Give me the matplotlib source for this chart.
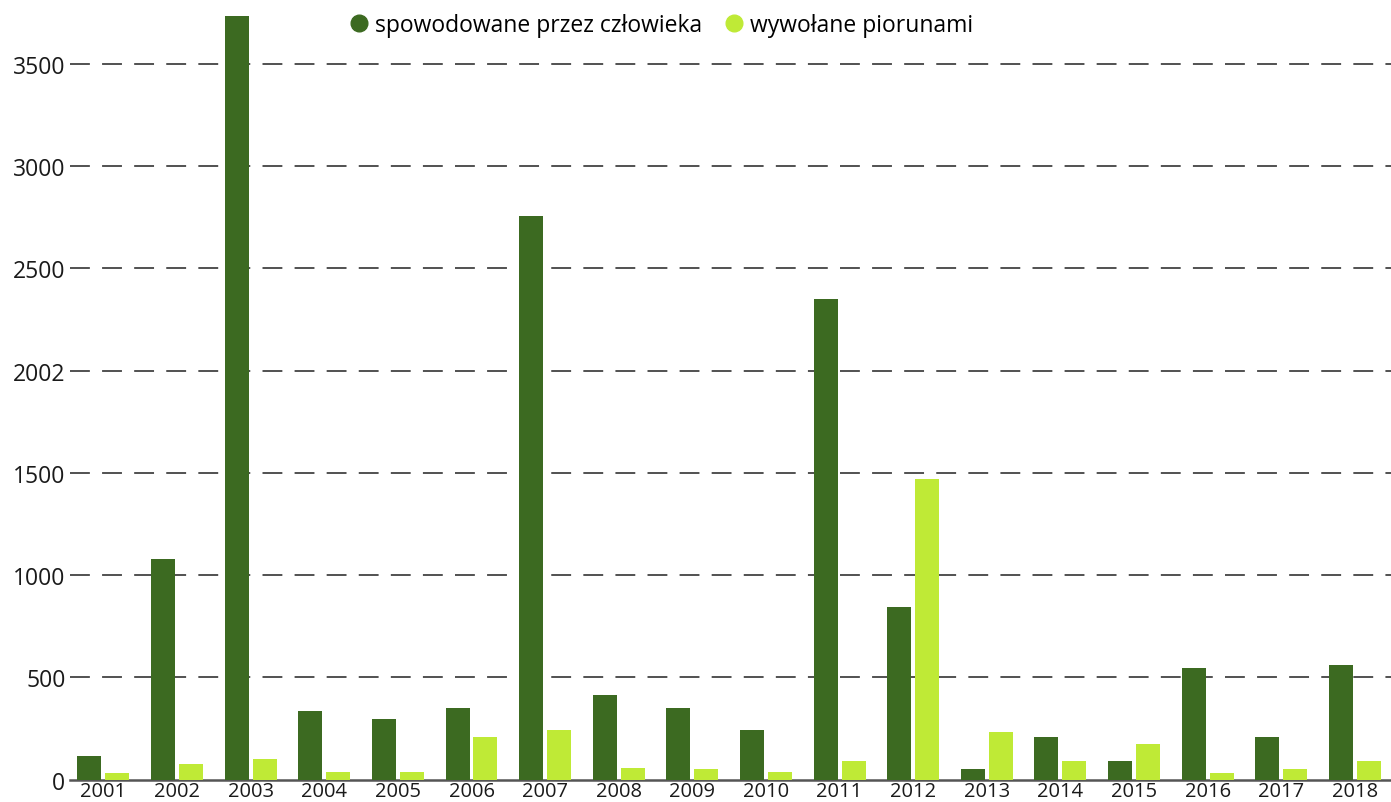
import numpy as np
import matplotlib.pyplot as plt
from matplotlib.lines import Line2D

plt.rcParams['font.family'] = ['Open Sans', 'DejaVu Sans']

years = [str(y) for y in range(2001, 2019)]
human = [113, 1080, 3735, 333, 294, 348, 2755, 412, 348, 244,
         2352, 843, 49, 210, 93, 545, 210, 558]
lightning = [30, 74, 99, 39, 39, 210, 244, 54, 49, 39,
             89, 1468, 230, 89, 175, 30, 49, 89]
ytick_vals = [0, 500, 1000, 1500, 2000, 2500, 3000, 3500]
ytick_labels = ['0', '500', '1000', '1500', '2002', '2500', '3000', '3500']

dark = '#3c6a21'
light = '#bfea36'

fig = plt.figure(figsize=(13.91, 8.03), dpi=100)
ax = fig.add_axes([0.05, 0.028, 0.95, 0.972])

x = np.arange(len(years))
w = 0.326
ax.bar(x - 0.19, human, w, color=dark, zorder=3)
ax.bar(x + 0.19, lightning, w, color=light, zorder=3)

ax.set_xlim(-0.46, 17.49)
ax.set_ylim(0, 3818)
ax.set_yticks(ytick_vals)
ax.set_yticklabels(ytick_labels)
ax.set_xticks(x)
ax.set_xticklabels(years)
ax.tick_params(axis='both', length=0, colors='#1a1a1a')
ax.tick_params(axis='y', pad=3, labelsize=16.5)
ax.tick_params(axis='x', pad=1, labelsize=14.5)

for v in ytick_vals[1:]:
    ax.axhline(v, color='#222222', lw=1.1, ls=(0, (13, 8)), zorder=1)

for s in ['top', 'right', 'left']:
    ax.spines[s].set_visible(False)
ax.spines['bottom'].set_color('#555555')
ax.spines['bottom'].set_linewidth(1.8)

handles = [Line2D([], [], marker='o', ls='', color=dark, markersize=12),
           Line2D([], [], marker='o', ls='', color=light, markersize=12)]
ax.legend(handles, ['spowodowane przez człowieka', 'wywołane piorunami'],
          loc='upper center', bbox_to_anchor=(0.448, 1.008), ncol=2, frameon=False,
          fontsize=16.5, handlelength=0.8, columnspacing=1.0, handletextpad=0.3)

fig.savefig('out.png', dpi=100)
